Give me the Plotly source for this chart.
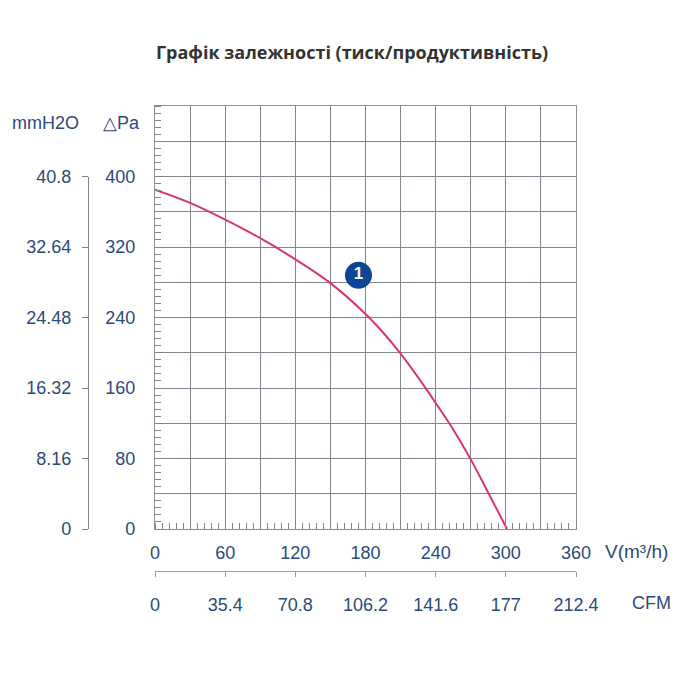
import plotly.graph_objects as go

# Data
flow_m3h = [0, 30, 60, 90, 120, 150, 180, 195, 210, 225, 240, 255, 270, 285, 301]
pressure_pa = [385, 370, 351, 330, 306, 279, 244, 223, 199, 172, 143, 113, 79, 41, 0]
marker_x = [174]
marker_y = [288]
marker_text = ["1"]

x_ticks = list(range(0, 361, 30))
x_ticktext = [str(v) if v % 60 == 0 else "" for v in x_ticks]
y_ticks = list(range(0, 481, 40))
y_ticktext = [str(v) if (v % 80 == 0 and v <= 400) else "" for v in y_ticks]
mm_ticks = [0, 8.16, 16.32, 24.48, 32.64, 40.8]
mm_ticktext = ["0", "8.16", "16.32", "24.48", "32.64", "40.8"]
cfm_ticks = [0, 35.4, 70.8, 106.2, 141.6, 177, 212.4]
cfm_ticktext = ["0", "35.4", "70.8", "106.2", "141.6", "177", "212.4"]

OFF = 8  # page body margin
W = H = 700 - 2 * OFF
def px(v): return (v - OFF) / W
def py(v): return 1 - (v - OFF) / H

lab_col = "#2c4a7c"
grid_col = "#80858f"
font_fam = "Liberation Sans, Arial, sans-serif"
fs = 18

fig = go.Figure()
fig.add_trace(go.Scatter(x=flow_m3h, y=pressure_pa, mode="lines",
                         line=dict(color="#d8356c", width=2, shape="spline", smoothing=1.0),
                         hoverinfo="skip", showlegend=False))
fig.add_trace(go.Scatter(x=marker_x, y=marker_y, mode="markers+text", text=marker_text,
                         textposition="middle center",
                         textfont=dict(color="white", size=17, family="Liberation Sans, Arial", weight="bold"),
                         marker=dict(size=27, color="#0d4694"),
                         hoverinfo="skip", showlegend=False))
# invisible trace for secondary unit axes
fig.add_trace(go.Scatter(x=[v * 0.589 for v in flow_m3h], y=[v * 0.102 for v in pressure_pa],
                         xaxis="x2", yaxis="y2", mode="lines", line=dict(width=0),
                         opacity=0, hoverinfo="skip", showlegend=False))

xdom = [px(155), px(576)]
ydom = [py(529), py(106)]

fig.update_layout(
    width=W, height=H, margin=dict(l=0, r=0, t=0, b=0, autoexpand=False),
    paper_bgcolor="white", plot_bgcolor="rgba(0,0,0,0)",
    font=dict(family=font_fam, color=lab_col, size=fs),
    title=dict(text="<b>Графік залежності (тиск/продуктивність)</b>", x=px(352), xanchor="center",
               y=py(53), yanchor="middle", automargin=False,
               font=dict(family="Open Sans, sans-serif", size=18, color="#333333")),
    xaxis=dict(domain=xdom, range=[0, 360], tickmode="array", tickvals=x_ticks, ticktext=x_ticktext,
               showgrid=True, gridcolor=grid_col, gridwidth=1.3, ticks="",
               showline=True, linecolor="#8a8f99", linewidth=1.3, mirror=True,
               zeroline=False, ticklabelstandoff=7, automargin=False,
               minor=dict(tickmode="linear", tick0=0, dtick=6, ticks="inside", ticklen=6,
                          tickcolor=grid_col, tickwidth=1, showgrid=False),
               anchor="y", fixedrange=True),
    yaxis=dict(domain=ydom, range=[0, 480], tickmode="array", tickvals=y_ticks, ticktext=y_ticktext,
               showgrid=True, gridcolor=grid_col, gridwidth=1.3, ticks="",
               showline=True, linecolor="#8a8f99", linewidth=1.3, mirror=True,
               zeroline=False, ticklabelstandoff=15, automargin=False,
               minor=dict(tickmode="linear", tick0=0, dtick=8, ticks="inside", ticklen=6,
                          tickcolor=grid_col, tickwidth=1, showgrid=False),
               anchor="x", fixedrange=True),
    xaxis2=dict(domain=xdom, range=[0, 212.4], anchor="free", position=py(571),
                tickmode="array", tickvals=cfm_ticks, ticktext=cfm_ticktext,
                showgrid=False, zeroline=False, showline=True, linecolor="#9a9ea6", linewidth=1.3,
                ticks="outside", ticklen=5, tickcolor="#9a9ea6", ticklabelstandoff=12,
                automargin=False, fixedrange=True),
    yaxis2=dict(domain=[py(529), py(176.5)], range=[0, 40.8], anchor="free", position=px(88),
                side="left", tickmode="array", tickvals=mm_ticks, ticktext=mm_ticktext,
                showgrid=False, zeroline=False, showline=True, linecolor="#7d828c", linewidth=1.2,
                ticks="outside", ticklen=6, tickcolor="#7d828c", ticklabelstandoff=7,
                automargin=False, fixedrange=True),
    annotations=[
        dict(text="mmH2O", x=px(45), y=py(123), xref="paper", yref="paper", showarrow=False,
             xanchor="center", yanchor="middle", font=dict(size=fs, color=lab_col)),
        dict(text="△Pa", x=px(121), y=py(123), xref="paper", yref="paper", showarrow=False,
             xanchor="center", yanchor="middle", font=dict(size=fs, color=lab_col)),
        dict(text="V(m³/h)", x=px(636), y=py(551), xref="paper", yref="paper", showarrow=False,
             xanchor="center", yanchor="middle", font=dict(size=19, color=lab_col)),
        dict(text="CFM", x=px(651), y=py(603), xref="paper", yref="paper", showarrow=False,
             xanchor="center", yanchor="middle", font=dict(size=fs, color=lab_col)),
    ],
)

fig.write_html("out.html")
